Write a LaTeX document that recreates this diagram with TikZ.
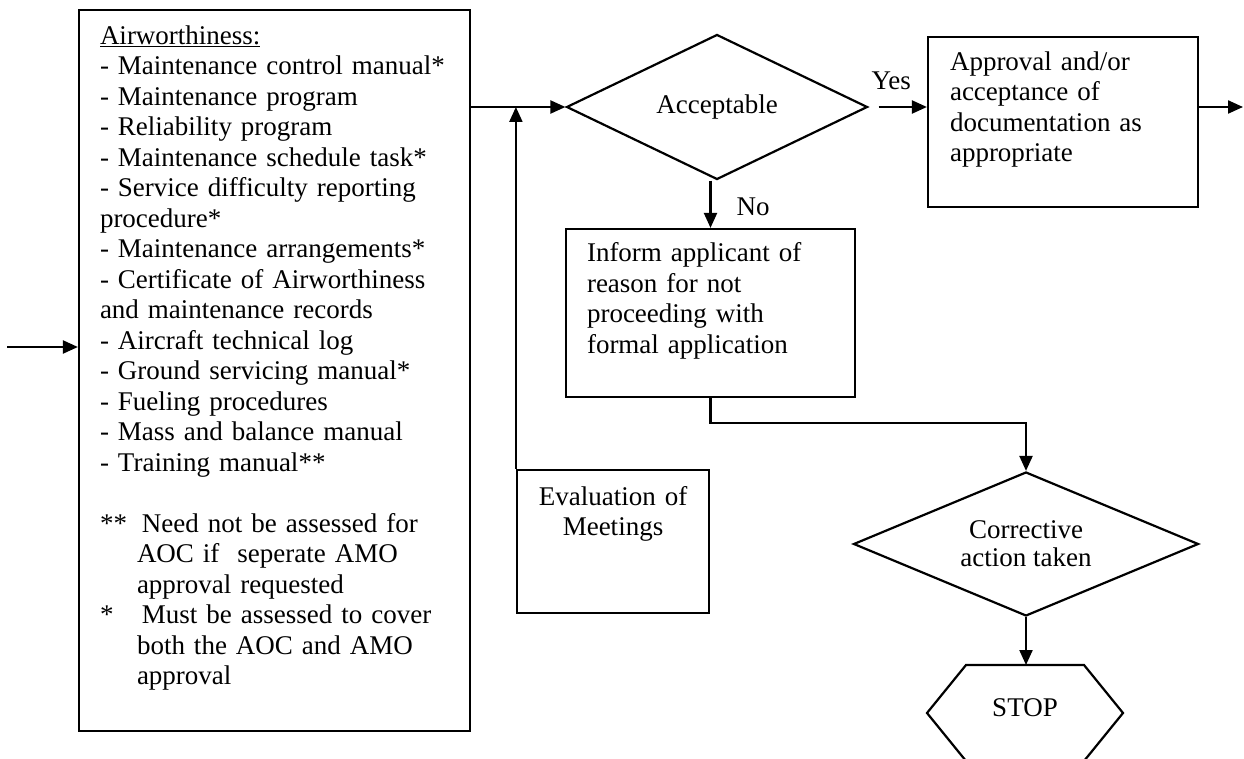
\documentclass[tikz,border=0pt]{standalone}
\usepackage{fontspec}
\setmainfont{Liberation Serif}
\usetikzlibrary{arrows.meta,shapes.geometric}

\begin{document}
\begin{tikzpicture}[x=1pt,y=-1pt,line width=2.2pt,
  every node/.style={font=\fontsize{27}{30.5}\selectfont,inner sep=2pt},
  box/.style={draw,rectangle,align=left,inner xsep=21pt,inner ysep=0pt},
  dec/.style={draw,diamond,aspect=2,align=center,inner sep=0pt},
  flow/.style={-{Triangle[length=15pt,width=13pt]}}]
\useasboundingbox (0,0) rectangle (1244,759);

\node[box,text width=349pt,minimum height=721pt] (docs) at (274.5,370.5) {\underline{Airworthiness:}\\
- Maintenance control manual*\\
- Maintenance program\\
- Reliability program\\
- Maintenance schedule task*\\
- Service difficulty reporting\\
procedure*\\
- Maintenance arrangements*\\
- Certificate of Airworthiness\\
and maintenance records\\
- Aircraft technical log\\
- Ground servicing manual*\\
- Fueling procedures\\
- Mass and balance manual\\
- Training manual**\\[30.5pt]
\makebox[37pt][l]{**}\hspace{5pt}Need not be assessed for\\
\hspace*{37pt}AOC if~ seperate AMO\\
\hspace*{37pt}approval requested\\
\makebox[37pt][l]{*}\hspace{5pt}Must be assessed to cover\\
\hspace*{37pt}both the AOC and AMO\\
\hspace*{37pt}approval\\
\mbox{}};
\coordinate (in) at (7,347);
\draw[flow] (in) -- (in -| docs.west);

\node[dec,minimum width=301pt,minimum height=145pt] (acc) at (717,107) {Acceptable};
\draw[flow] (docs.east |- acc.west) -- (acc.west);

\node[box,text width=226pt,inner xsep=22pt,minimum height=170pt] (appr) at (1063,122) {Approval and/or\\acceptance of\\documentation as\\appropriate\\\mbox{}};
\draw[flow] ([xshift=10pt]acc.east) -- node[pos=0.26,above=14pt] {Yes} (acc.east -| appr.west);
\coordinate (out) at (1243,107);
\draw[flow] (acc.east -| appr.east) -- (out);

\node[box,text width=247pt,minimum height=168pt] (inform) at (710.5,313) {Inform applicant of\\reason for not\\proceeding with\\formal application\\\mbox{}};
\draw[flow] (acc.south -| inform.north) -- node[pos=0.55,right=23pt] {No} (inform.north);

\node[box,align=center,text width=150pt,minimum width=192pt,minimum height=143pt] (eval) at (613,541.5) {Evaluation of\\Meetings\\\mbox{}\\\mbox{}};
\draw[flow] (eval.north west) -- (eval.north west |- acc.west);

\node[dec,minimum width=345pt,minimum height=144pt] (corr) at (1026,544) {Corrective\\[-2.5pt]action taken};
\draw[flow] (inform.south) -- ++(0,25) -| (corr.north);

\node (stop) at (1025,708) {STOP};
\draw (stop.center) ++(-59,-43) coordinate (hextl) -- ++(118,0) -- ++(39,48) -- ++(-39,48) -- ++(-118,0) -- ++(-39,-48) -- cycle;
\draw[flow] (corr.south) -- (corr.south |- hextl);
\end{tikzpicture}
\end{document}
